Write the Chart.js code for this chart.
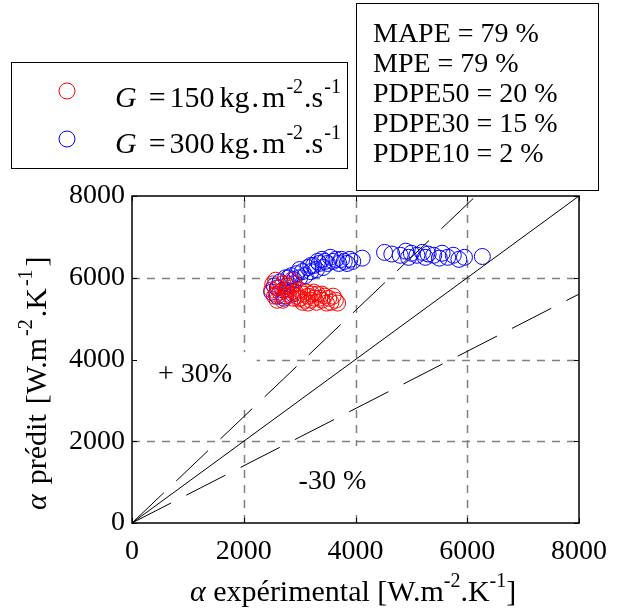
<!DOCTYPE html>
<html>
<head>
<meta charset="utf-8">
<script src="https://cdn.jsdelivr.net/npm/chart.js@4.4.1/dist/chart.umd.min.js"></script>
<style>
  html, body { margin: 0; padding: 0; background: #fff; }
  #wrap { width: 619px; height: 612px; }
</style>
</head>
<body>
<div id="wrap"><canvas id="chart" width="619" height="612"></canvas></div>
<script>
// axis ticks (same on both axes)
const axisTicks = [0, 2000, 4000, 6000, 8000];

// G = 150 kg.m-2.s-1 : experimental / predicted
const g150Exp  = [2500, 2520, 2570, 2580, 2620, 2650, 2700, 2720, 2760, 2800, 2857, 2850, 2880, 2920, 2950,
                  3000, 3020, 3060, 3100, 3120, 3150, 3200, 3220, 3260, 3300, 3320, 3360, 3400, 3450, 3480,
                  3520, 3560, 3600, 3640, 3680, 2600, 2700, 2550, 2900, 3050, 3400, 3250, 2780, 2980, 3150];
const g150Pred = [5700, 5850, 5940, 5600, 5750, 5650, 5850, 5550, 5700, 5600, 5940, 5750, 5500, 5650, 5550,
                  5700, 5500, 5600, 5450, 5650, 5550, 5450, 5600, 5500, 5400, 5600, 5500, 5450, 5550, 5380,
                  5500, 5400, 5550, 5450, 5380, 5450, 5450, 5550, 5850, 5400, 5600, 5650, 5800, 5480, 5380];

// G = 300 kg.m-2.s-1 : experimental / predicted
const g300Exp  = [2500, 2550, 2600, 2650, 2700, 2720, 2750, 2800, 2850, 2880, 2900, 2950, 3000, 3050, 3100,
                  3150, 3200, 3250, 3300, 3320, 3350, 3400, 3420, 3450, 3500, 3550, 3600, 3650, 3700, 3750,
                  3800, 3850, 3900, 3950, 4120, 2600, 2800, 3000, 3200, 2750,
                  4520, 4650, 4800, 4900, 4950, 5000, 5100, 5200, 5250, 5300, 5400, 5500, 5550, 5650,
                  5750, 5850, 5950, 6270];
const g300Pred = [5650, 5800, 5550, 5900, 5700, 5500, 6000, 5850, 6050, 5600, 5950, 6100, 6000, 6150, 6050,
                  6250, 6150, 6300, 6200, 6400, 6350, 6450, 6250, 6400, 6350, 6500, 6400, 6450, 6350, 6450,
                  6400, 6350, 6450, 6400, 6480, 5750, 6000, 6200, 6300, 5550,
                  6620, 6580, 6550, 6650, 6500, 6600, 6550, 6620, 6500, 6580, 6550, 6480, 6600, 6500,
                  6550, 6450, 6500, 6520];

// reference lines: y = x, +30 %, -30 %
const parityExp  = [0, 8000];
const parityPred = [0, 8000];
const plus30Exp  = [0, 6154];
const plus30Pred = [0, 8000];
const minus30Exp  = [0, 8000];
const minus30Pred = [0, 5600];

const statsLines = ['MAPE = 79 %', 'MPE = 79 %', 'PDPE50 = 20 %', 'PDPE30 = 15 %', 'PDPE10 = 2 %'];

const FONT = '"Liberation Serif", "Times New Roman", serif';

function pts(xs, ys) {
  return xs.map((x, i) => ({ x: x, y: ys[i] }));
}

// draws text pieces with superscripts / italics, returns width
function richText(ctx, x, y, parts, size) {
  let cx = x;
  parts.forEach(p => {
    const fs = p.sup ? Math.round(size * 0.68) : size;
    ctx.font = (p.it ? 'italic ' : '') + fs + 'px ' + FONT;
    cx += p.gap || 0;
    ctx.fillText(p.t, cx, p.sup ? y - size * 0.46 : y);
    cx += ctx.measureText(p.t).width;
  });
  return cx - x;
}

const framePlugin = {
  id: 'frame',
  beforeDatasetsDraw(chart) {
    const ctx = chart.ctx;
    const xs = chart.scales.x, ys = chart.scales.y;
    const a = chart.chartArea;
    ctx.save();
    // dashed grid
    ctx.strokeStyle = '#808080';
    ctx.lineWidth = 1.5;
    ctx.setLineDash([8, 7]);
    axisTicks.slice(1, -1).forEach(v => {
      const px = Math.round(xs.getPixelForValue(v)) + 0.5;
      ctx.beginPath(); ctx.moveTo(px, a.bottom); ctx.lineTo(px, a.top); ctx.stroke();
      const py = Math.round(ys.getPixelForValue(v)) + 0.5;
      ctx.beginPath(); ctx.moveTo(a.left, py); ctx.lineTo(a.right, py); ctx.stroke();
    });
    ctx.setLineDash([]);
    // white backgrounds of the two text annotations
    ctx.fillStyle = '#fff';
    const box = (x0, y0, x1, y1) => {
      const l = xs.getPixelForValue(x0), r = xs.getPixelForValue(x1);
      const t = ys.getPixelForValue(y0), b = ys.getPixelForValue(y1);
      ctx.fillRect(l, t, r - l, b - t);
    };
    box(20, 4180, 2232, 2765);
    box(2857, 1884, 4786, 196);
    // annotation text
    ctx.fillStyle = '#000';
    ctx.font = '28px ' + FONT;
    ctx.textBaseline = 'alphabetic';
    ctx.fillText('+ 30%', xs.getPixelForValue(464), ys.getPixelForValue(3450));
    ctx.fillText('-30 %', xs.getPixelForValue(2982), ys.getPixelForValue(832));
    ctx.restore();
  },
  afterDraw(chart) {
    const ctx = chart.ctx;
    const xs = chart.scales.x, ys = chart.scales.y;
    const a = chart.chartArea;
    ctx.save();
    // axes box
    ctx.strokeStyle = '#000';
    ctx.lineWidth = 1.5;
    ctx.strokeRect(a.left, a.top, a.right - a.left, a.bottom - a.top);
    // inward tick marks
    ctx.lineWidth = 1;
    axisTicks.forEach(v => {
      const px = Math.round(xs.getPixelForValue(v)) + 0.5;
      const py = Math.round(ys.getPixelForValue(v)) + 0.5;
      ctx.beginPath();
      ctx.moveTo(px, a.bottom); ctx.lineTo(px, a.bottom - 5);
      ctx.moveTo(px, a.top); ctx.lineTo(px, a.top + 5);
      ctx.moveTo(a.left, py); ctx.lineTo(a.left + 5, py);
      ctx.moveTo(a.right, py); ctx.lineTo(a.right - 5, py);
      ctx.stroke();
    });

    ctx.fillStyle = '#000';
    ctx.textBaseline = 'alphabetic';
    ctx.textAlign = 'left';

    // x axis title
    richText(ctx, 190, 601, [
      { t: 'α', it: true }, { t: ' expérimental [W.m' }, { t: '-2', sup: true },
      { t: '.K' }, { t: '-1', sup: true }, { t: ']' }
    ], 30);

    // y axis title (rotated)
    ctx.save();
    ctx.translate(46, 510);
    ctx.rotate(-Math.PI / 2);
    richText(ctx, 0, 0, [
      { t: 'α', it: true }, { t: 'prédit', gap: 10 }, { t: '[W.m', gap: 10 }, { t: '-2', sup: true, gap: 2 },
      { t: '.K', gap: 2 }, { t: '-1', sup: true, gap: 2 }, { t: ']', gap: 3 }
    ], 30);
    ctx.restore();

    // legend box
    ctx.fillStyle = '#fff';
    ctx.fillRect(11, 62, 336, 106);
    ctx.lineWidth = 1;
    ctx.strokeStyle = '#000';
    ctx.strokeRect(11.5, 62.5, 336, 106);
    const legendRows = [
      { ds: chart.data.datasets[3], val: '150', y: 107, my: 91 },
      { ds: chart.data.datasets[4], val: '300', y: 153, my: 139 }
    ];
    legendRows.forEach(r => {
      ctx.strokeStyle = r.ds.borderColor;
      ctx.beginPath();
      ctx.arc(67, r.my, 8, 0, Math.PI * 2);
      ctx.stroke();
      ctx.fillStyle = '#000';
      richText(ctx, 115, r.y, [
        { t: 'G', it: true }, { t: '=', gap: 12 }, { t: r.val, gap: 4 }, { t: 'kg', gap: 5 },
        { t: '.', gap: 2 }, { t: 'm', gap: 3 }, { t: '-2', sup: true, gap: 1 }, { t: '.s', gap: 1 },
        { t: '-1', sup: true, gap: 1 }
      ], 30);
    });

    // statistics box
    ctx.fillStyle = '#fff';
    ctx.fillRect(356, 3, 242, 187);
    ctx.strokeStyle = '#000';
    ctx.strokeRect(356.5, 3.5, 242, 187);
    ctx.fillStyle = '#000';
    ctx.font = '28px ' + FONT;
    statsLines.forEach((s, i) => ctx.fillText(s, 373, 42 + i * 30));
    ctx.restore();
  }
};

const tickFont = { family: FONT, size: 28 };

new Chart(document.getElementById('chart').getContext('2d'), {
  type: 'scatter',
  data: {
    datasets: [
      { label: 'y = x', data: pts(parityExp, parityPred), showLine: true, borderColor: '#000',
        borderWidth: 1, pointRadius: 0, order: 0 },
      { label: '+30 %', data: pts(plus30Exp, plus30Pred), showLine: true, borderColor: '#000',
        borderWidth: 1, borderDash: [44, 17], pointRadius: 0, order: 0 },
      { label: '-30 %', data: pts(minus30Exp, minus30Pred), showLine: true, borderColor: '#000',
        borderWidth: 1, borderDash: [44, 17], pointRadius: 0, order: 0 },
      { label: 'G = 150', data: pts(g150Exp, g150Pred), borderColor: '#ff0000',
        backgroundColor: 'rgba(0,0,0,0)', pointRadius: 8, pointBorderWidth: 1, order: 1 },
      { label: 'G = 300', data: pts(g300Exp, g300Pred), borderColor: '#0000ff',
        backgroundColor: 'rgba(0,0,0,0)', pointRadius: 8, pointBorderWidth: 1, order: 2 }
    ]
  },
  options: {
    responsive: false,
    animation: false,
    layout: { padding: { top: 196, right: 39, left: 0, bottom: 0 } },
    plugins: { legend: { display: false }, tooltip: { enabled: false } },
    scales: {
      x: {
        type: 'linear', min: 0, max: 8000,
        afterFit(s) { s.height = 89; },
        grid: { display: false, drawTicks: false }, border: { display: false },
        ticks: { stepSize: 2000, autoSkip: false, maxRotation: 0, padding: 12, color: '#000',
                 font: tickFont, callback: v => String(v) }
      },
      y: {
        type: 'linear', min: 0, max: 8000,
        afterFit(s) { s.width = 132; },
        grid: { display: false, drawTicks: false }, border: { display: false },
        ticks: { stepSize: 2000, autoSkip: false, padding: 7, color: '#000',
                 font: tickFont, callback: v => String(v) }
      }
    }
  },
  plugins: [framePlugin]
});
</script>
</body>
</html>
